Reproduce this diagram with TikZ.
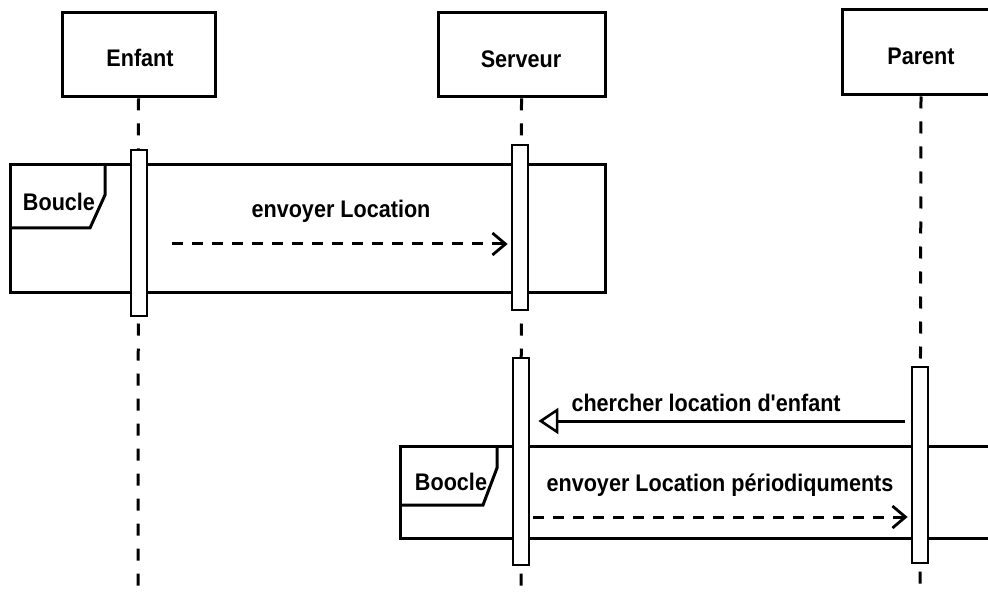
\documentclass[tikz,border=0pt]{standalone}
\usepackage{fontspec}
\setmainfont{Liberation Sans}[Ligatures=TeXOff,FakeStretch=0.9]
\usetikzlibrary{arrows.meta}
\begin{document}
\begin{tikzpicture}[x=1pt,y=-1pt,line width=3pt,
  actorbox/.style={draw,fill=white,minimum height=84pt,inner sep=0pt},
  actbar/.style={draw,fill=white,minimum width=16pt,inner sep=0pt,line width=2.8pt},
  lifeline/.style={dash pattern=on 12pt off 13pt,line width=3pt},
  lbl/.style={font=\fontsize{24}{28}\selectfont\bfseries,inner sep=0pt},
  framebox/.style={draw,line width=3pt},
  async/.style={dash pattern=on 11pt off 9pt,-{Straight Barb[length=13pt,width=22pt,line width=2.8pt]}},
  sync/.style={-{Triangle[open,length=20pt,width=26pt,line width=2.6pt]}}]
\useasboundingbox (0,0) rectangle (988,596);
\clip (0,0) rectangle (988,596);
\fill[white] (0,0) rectangle (988,596);
% actors
\node[actorbox,minimum width=153pt] (enfant) at (138.5,55) {};
\node[actorbox,minimum width=167pt] (serveur) at (521.5,55) {};
\node[actorbox,minimum width=158pt,minimum height=85pt] (parent) at (921,52.5) {};
\node[lbl] (enfantl) at (140,58) {Enfant};
\node[lbl] (serveurl) at (521,59) {Serveur};
\node[lbl] (parentl) at (921,56) {Parent};
% lifeline ends
\coordinate (eend) at (138,600);
\coordinate (send) at (521,600);
\coordinate (pend) at (920,600);
\draw[lifeline] (enfant.south) -- (eend);
\draw[lifeline] (serveur.south) -- (send);
\draw[lifeline] (parent.south) -- (pend);
% frame 1
\draw[framebox,fill=white] (10,165) rectangle (605,292);
\draw[framebox] (10,228) -- (90,228) -- (105,195) -- (105,165);
\node[lbl] (boucle) at (59,202) {Boucle};
% frame 2
\draw[framebox,fill=white] (400,446) rectangle (1000,538);
\draw[framebox] (400,505) -- (483,505) -- (497,468) -- (497,446);
\node[lbl] (boocle) at (451,482) {Boocle};
% activations
\node[actbar,minimum height=166pt] (eact) at (139,233) {};
\node[actbar,minimum height=165pt] (sact1) at (520,227.5) {};
\node[actbar,minimum height=207pt] (sact2) at (521,461.5) {};
\node[actbar,minimum height=196pt] (pact) at (920,465) {};
% messages
\coordinate (m1s) at (172,244);
\draw[async] (m1s) -- ([xshift=-3pt]sact1.west |- m1s);
\node[lbl] (m1l) at (341,211) {envoyer Location};
\coordinate (m2s) at (905,421);
\draw[sync] (m2s) -- ([xshift=8pt]sact2.east |- m2s);
\node[lbl,anchor=west] (m2l) at (570,403) {chercher location d'enfant};
\coordinate (m3s) at (533,517);
\draw[async] (m3s) -- ([xshift=-3pt]pact.west |- m3s);
\node[lbl] (m3l) at (720,485) {envoyer Location périodiquments};
\end{tikzpicture}
\end{document}
